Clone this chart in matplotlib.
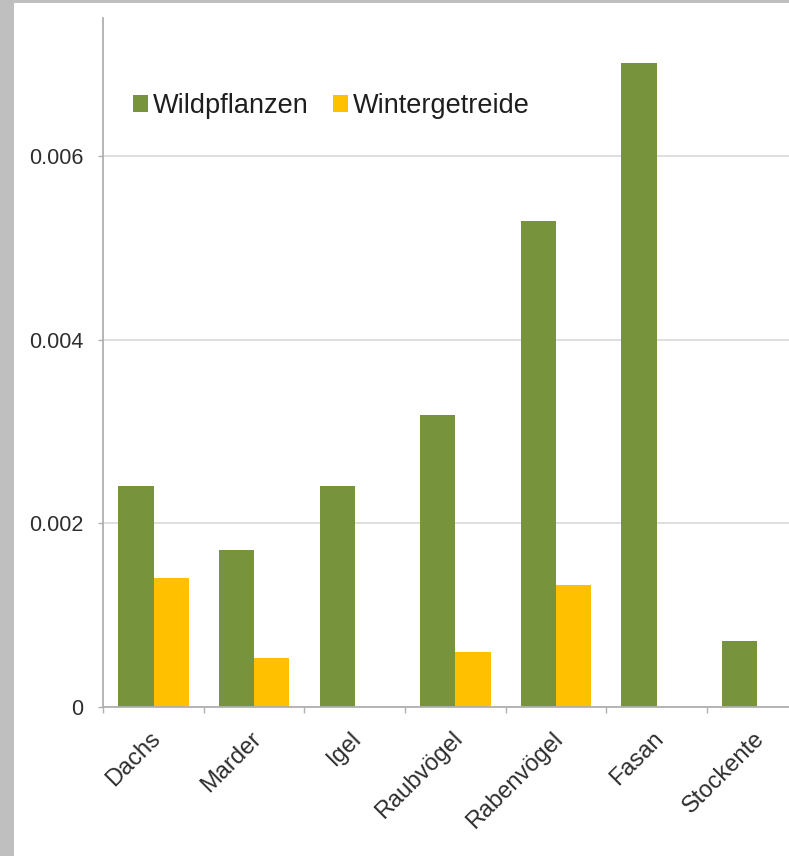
import numpy as np
import matplotlib.pyplot as plt
import matplotlib.transforms as mtransforms
from matplotlib.patches import Rectangle
from matplotlib.ticker import FixedLocator

plt.rcParams['font.family'] = ['Liberation Sans', 'DejaVu Sans']

# Data
categories = ['Dachs', 'Marder', 'Igel', 'Raubvögel', 'Rabenvögel', 'Fasan', 'Stockente']
wildpflanzen = [0.00241, 0.00171, 0.00241, 0.00318, 0.00529, 0.00701, 0.00072]
wintergetreide = [0.00140, 0.00053, 0.0, 0.00060, 0.00133, 0.0, 0.0]
yticks = [0, 0.002, 0.004, 0.006]
ytick_labels = ['0', '0.002', '0.004', '0.006']

green = '#77933C'
yellow = '#FFC000'
axis_gray = '#b0b0b0'
grid_gray = '#d9d9d9'
text_col = '#2e2e2e'

fig = plt.figure(figsize=(7.89, 8.56), dpi=100, facecolor='#bfbfbf')
# white panel inside the grey border
fig.patches.append(Rectangle((14 / 789, 0), 1, 1 - 3 / 856, transform=fig.transFigure,
                             facecolor='white', edgecolor='none', zorder=-10))

ax = fig.add_axes([103.3 / 789, 149 / 856, 704.2 / 789, 688.7 / 856])
ax.set_facecolor('none')

x = np.arange(len(categories))
bar_width = 0.35
ax.bar(x - bar_width / 2, wildpflanzen, bar_width, color=green, label='Wildpflanzen', zorder=3)
ax.bar(x + bar_width / 2, wintergetreide, bar_width, color=yellow, label='Wintergetreide', zorder=3)

ax.set_xlim(-0.5, len(categories) - 0.5)
ax.set_ylim(0, 0.0075)

# y axis
ax.set_yticks(yticks)
ax.set_yticklabels(ytick_labels)
ax.yaxis.grid(True, color=grid_gray, linewidth=1.2, zorder=0)
ax.tick_params(axis='y', length=3.6, width=1, color=axis_gray, pad=10.5,
               labelsize=15.5, labelcolor=text_col)

# x axis: labels at centres, tick marks at category boundaries
ax.set_xticks(x)
ax.set_xticklabels(categories, rotation=45, ha='right', rotation_mode='anchor')
ax.xaxis.set_minor_locator(FixedLocator(np.arange(len(categories) + 1) - 0.5))
ax.tick_params(axis='x', which='major', length=0, pad=15, labelsize=17, labelcolor=text_col)
ax.tick_params(axis='x', which='minor', length=4.5, width=1, color=axis_gray)
shift = mtransforms.ScaledTranslation(-4 / 100, 0, fig.dpi_scale_trans)
for lab in ax.get_xticklabels():
    lab.set_transform(lab.get_transform() + shift)

for side in ['top', 'right']:
    ax.spines[side].set_visible(False)
for side in ['left', 'bottom']:
    ax.spines[side].set_color(axis_gray)
    ax.spines[side].set_linewidth(1.3)
    ax.spines[side].set_zorder(4)

leg = ax.legend(loc='center left', bbox_to_anchor=(132.7 / 789, 1 - 106 / 856),
                bbox_transform=fig.transFigure, ncol=2, frameon=False,
                fontsize=19.5, handlelength=0.55, handleheight=0.55,
                handletextpad=0.18, columnspacing=0.92, borderpad=0, borderaxespad=0)
for t in leg.get_texts():
    t.set_color('#1e1e1e')

fig.savefig('out.png', dpi=100, facecolor=fig.get_facecolor())
